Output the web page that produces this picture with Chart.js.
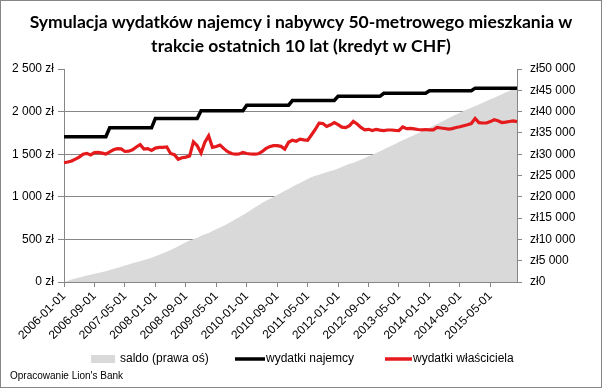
<!DOCTYPE html>
<html>
<head>
<meta charset="utf-8">
<script src="https://cdn.jsdelivr.net/npm/chart.js@4.4.1/dist/chart.umd.min.js"></script>
<style>
    html, body { margin: 0; padding: 0; background: #fff; }
    canvas { display: block; }
</style>
</head>
<body>
<canvas id="wydatkiChart" width="602" height="388"></canvas>
<script>
// miesiace 2006-01 .. 2015-12
const startYear = 2006;
const monthCount = 120;

const tickLabels = [
    "2006-01-01", "2006-09-01", "2007-05-01", "2008-01-01", "2008-09-01",
    "2009-05-01", "2010-01-01", "2010-09-01", "2011-05-01", "2012-01-01",
    "2012-09-01", "2013-05-01", "2014-01-01", "2014-09-01", "2015-05-01"
];

const wydatkiNajemcy = [
    1705, 1705, 1705, 1705, 1705, 1705, 1705, 1705, 1705, 1705, 1705, 1705,
    1810, 1810, 1810, 1810, 1810, 1810, 1810, 1810, 1810, 1810, 1810, 1810,
    1920, 1920, 1920, 1920, 1920, 1920, 1920, 1920, 1920, 1920, 1920, 1920,
    2010, 2010, 2010, 2010, 2010, 2010, 2010, 2010, 2010, 2010, 2010, 2010,
    2075, 2075, 2075, 2075, 2075, 2075, 2075, 2075, 2075, 2075, 2075, 2075,
    2130, 2130, 2130, 2130, 2130, 2130, 2130, 2130, 2130, 2130, 2130, 2130,
    2180, 2180, 2180, 2180, 2180, 2180, 2180, 2180, 2180, 2180, 2180, 2180,
    2215, 2215, 2215, 2215, 2215, 2215, 2215, 2215, 2215, 2215, 2215, 2215,
    2245, 2245, 2245, 2245, 2245, 2245, 2245, 2245, 2245, 2245, 2245, 2245,
    2275, 2275, 2275, 2275, 2275, 2275, 2275, 2275, 2275, 2275, 2275, 2275
];

const wydatkiWlasciciela = [
    1400, 1408, 1420, 1442, 1466, 1500, 1510, 1492, 1518, 1522, 1512, 1502,
    1528, 1552, 1565, 1562, 1532, 1536, 1552, 1585, 1612, 1560, 1566, 1545,
    1572, 1580, 1580, 1585, 1508, 1494, 1440, 1458, 1466, 1480, 1645, 1600,
    1515, 1640, 1715, 1580, 1590, 1608, 1565, 1530, 1508, 1500, 1502, 1520,
    1508, 1502, 1500, 1505, 1530, 1565, 1588, 1600, 1600, 1592, 1560, 1640,
    1665, 1652, 1676, 1668, 1662, 1725, 1790, 1865, 1860, 1825, 1845, 1870,
    1848, 1818, 1811, 1835, 1885, 1855, 1815, 1786, 1792, 1778, 1792, 1782,
    1776, 1784, 1784, 1780, 1778, 1820, 1800, 1804, 1797, 1790, 1785, 1790,
    1785, 1785, 1815, 1808, 1802, 1795, 1800, 1813, 1822, 1834, 1846, 1860,
    1920, 1870, 1866, 1866, 1883, 1905, 1892, 1872, 1876, 1884, 1890, 1882
];

const saldo = [
    0, 290, 570, 830, 1070, 1290, 1500, 1720, 1920, 2120, 2330, 2550,
    2810, 3060, 3310, 3560, 3850, 4130, 4400, 4640, 4860, 5150, 5420, 5720,
    6070, 6410, 6750, 7090, 7500, 7930, 8400, 8860, 9320, 9760, 10040, 10360,
    10860, 11230, 11520, 11950, 12370, 12770, 13220, 13700, 14200, 14710, 15220, 15710,
    16270, 16840, 17410, 17980, 18520, 19020, 19500, 19970, 20440, 20920, 21430, 21860,
    22330, 22810, 23260, 23720, 24190, 24600, 24940, 25200, 25470, 25780, 26060, 26320,
    26650, 27010, 27380, 27730, 28020, 28350, 28710, 29110, 29500, 29900, 30290, 30690,
    31130, 31560, 31990, 32420, 32860, 33250, 33660, 34070, 34490, 34910, 35340, 35760,
    36220, 36680, 37110, 37550, 37990, 38440, 38880, 39310, 39740, 40150, 40550, 40930,
    41290, 41690, 42100, 42510, 42900, 43270, 43660, 44060, 44460, 44850, 45240, 45630
];

const titleLines = [
    "Symulacja wydatków najemcy i nabywcy 50-metrowego mieszkania w",
    "trakcie ostatnich 10 lat (kredyt w CHF)"
];
const footerText = "Opracowanie Lion's Bank";

const labels = [];
for (let i = 0; i < monthCount; i++) {
    const y = startYear + Math.floor(i / 12);
    const m = String((i % 12) + 1).padStart(2, "0");
    labels.push(y + "-" + m + "-01");
}

const AXIS_COLOR = "#868686";
const GRAY = "#d9d9d9";
const RED = "#e41a1c";
const TICK_FONT = { family: "'Liberation Sans', Arial, sans-serif", size: 12 };

function formatPln(v) {
    return String(v).replace(/\B(?=(\d{3})+(?!\d))/g, " ");
}

// tytul, legenda, stopka, ramka
const decorPlugin = {
    id: "decor",
    beforeDraw(chart) {
        const ctx = chart.ctx;
        ctx.save();
        ctx.fillStyle = "#fff";
        ctx.fillRect(0, 0, chart.width, chart.height);
        ctx.restore();
    },
    afterDraw(chart) {
        const ctx = chart.ctx;
        ctx.save();

        ctx.fillStyle = "#000";
        ctx.textAlign = "center";
        ctx.textBaseline = "middle";
        ctx.font = "bold 17.5px Lato, 'Liberation Sans', sans-serif";
        ctx.fillText(titleLines[0], 301, 22);
        ctx.fillText(titleLines[1], 301, 46);

        // legenda
        const ly = 359;
        ctx.font = "12px 'Liberation Sans', Arial, sans-serif";
        ctx.textAlign = "left";
        ctx.fillStyle = GRAY;
        ctx.fillRect(91, ly - 4, 24, 8);
        ctx.fillStyle = "#000";
        ctx.fillText(chart.data.datasets[0].label, 120, ly);

        ctx.lineWidth = 3.5;
        ctx.strokeStyle = "#000";
        ctx.beginPath();
        ctx.moveTo(235, ly);
        ctx.lineTo(265, ly);
        ctx.stroke();
        ctx.fillText(chart.data.datasets[1].label, 266, ly);

        ctx.strokeStyle = RED;
        ctx.beginPath();
        ctx.moveTo(385, ly);
        ctx.lineTo(412, ly);
        ctx.stroke();
        ctx.fillText(chart.data.datasets[2].label, 413, ly);

        ctx.font = "10px 'Liberation Sans', Arial, sans-serif";
        ctx.fillText(footerText, 10, 376);

        ctx.lineWidth = 1;
        ctx.strokeStyle = AXIS_COLOR;
        ctx.strokeRect(0.5, 0.5, chart.width - 1, chart.height - 1);
        ctx.restore();
    }
};

const ctx = document.getElementById("wydatkiChart").getContext("2d");
new Chart(ctx, {
    type: "line",
    data: {
        labels: labels,
        datasets: [
            {
                label: "saldo (prawa oś)",
                data: saldo,
                yAxisID: "y1",
                fill: "origin",
                backgroundColor: GRAY,
                borderWidth: 0,
                pointRadius: 0,
                order: 3,
            },
            {
                label: "wydatki najemcy",
                data: wydatkiNajemcy,
                yAxisID: "y",
                borderColor: "#000",
                borderWidth: 3.5,
                pointRadius: 0,
                fill: false,
                order: 1,
            },
            {
                label: "wydatki właściciela",
                data: wydatkiWlasciciela,
                yAxisID: "y",
                borderColor: RED,
                borderWidth: 3.2,
                pointRadius: 0,
                fill: false,
                order: 0,
            },
        ],
    },
    options: {
        responsive: false,
        animation: false,
        devicePixelRatio: 1,
        layout: {
            padding: { top: 69, left: 0, right: 0, bottom: 0 },
        },
        plugins: {
            legend: { display: false },
            title: { display: false },
            tooltip: { enabled: false },
        },
        scales: {
            x: {
                offset: false,
                afterFit: function (scale) {
                    scale.height = 106;
                },
                grid: {
                    drawOnChartArea: false,
                    color: AXIS_COLOR,
                    tickLength: 5,
                },
                border: { color: AXIS_COLOR },
                ticks: {
                    autoSkip: false,
                    maxRotation: 45,
                    minRotation: 45,
                    padding: 2,
                    color: "#000",
                    font: TICK_FONT,
                    callback: function (value, index) {
                        const lab = labels[index];
                        return tickLabels.includes(lab) ? lab : null;
                    },
                },
            },
            y: {
                position: "left",
                min: 0,
                max: 2500,
                afterFit: function (scale) {
                    scale.width = 64;
                },
                grid: {
                    color: function (c) {
                        return c.tick && c.tick.value === 2500 ? "rgba(0,0,0,0)" : AXIS_COLOR;
                    },
                    tickColor: AXIS_COLOR,
                    tickLength: 6,
                },
                border: { color: AXIS_COLOR },
                ticks: {
                    stepSize: 500,
                    padding: 4,
                    color: "#000",
                    font: TICK_FONT,
                    callback: function (v) {
                        return formatPln(v) + " zł";
                    },
                },
            },
            y1: {
                position: "right",
                min: 0,
                max: 50000,
                afterFit: function (scale) {
                    scale.width = 85;
                },
                grid: {
                    drawOnChartArea: false,
                    color: AXIS_COLOR,
                    tickLength: 5,
                },
                border: { color: AXIS_COLOR },
                ticks: {
                    stepSize: 5000,
                    padding: 8,
                    color: "#000",
                    font: TICK_FONT,
                    callback: function (v) {
                        return "zł" + formatPln(v);
                    },
                },
            },
        },
    },
    plugins: [decorPlugin],
});
</script>
</body>
</html>
